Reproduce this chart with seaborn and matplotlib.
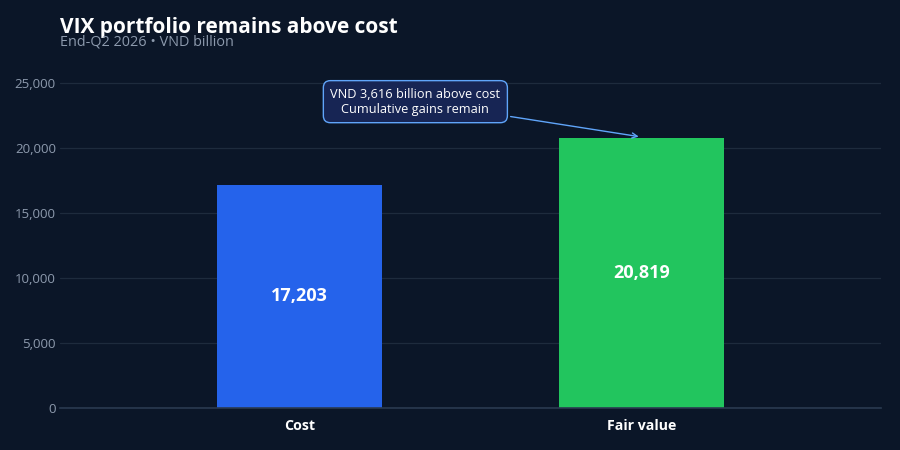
import pandas as pd
import matplotlib.pyplot as plt
import seaborn as sns

# data
categories = ['Cost', 'Fair value']
values = [17203, 20819]
bar_colors = ['#2563eb', '#22c55e']
y_ticks = [0, 5000, 10000, 15000, 20000, 25000]

bg = '#0b1628'
grid_c = '#1e2b3d'
tick_c = '#8d9aad'

sns.set_theme(style='dark')
plt.rcParams['font.family'] = ['Open Sans', 'DejaVu Sans']

df = pd.DataFrame({'item': categories, 'value': values})

fig = plt.figure(figsize=(9, 4.5), dpi=100, facecolor=bg)
ax = fig.add_axes([0.0667, 0.0933, 0.912, 0.75])
ax.set_facecolor(bg)

sns.barplot(data=df, x='item', y='value', hue='item', palette=bar_colors,
            width=0.48, legend=False, ax=ax, saturation=1,
            edgecolor='none', linewidth=0)

# value labels in the middle of bars
for i, v in enumerate(values):
    ax.text(i, v / 2, f'{v:,}', ha='center', va='center', color='white',
            fontsize=13, fontweight='bold')

ax.set_xlim(-0.70, 1.70)
ax.set_ylim(0, 26000)
ax.set_yticks(y_ticks)
ax.set_yticklabels([f'{t:,}' for t in y_ticks], color=tick_c, fontsize=9.5)
ax.set_xticks(range(len(categories)))
ax.set_xticklabels(categories, color='white', fontsize=10.2, fontweight='bold')
ax.set_xlabel('')
ax.set_ylabel('')
ax.grid(axis='y', color=grid_c, linewidth=0.9)
ax.grid(axis='x', visible=False)
ax.set_axisbelow(True)
for s in ['top', 'right', 'left']:
    ax.spines[s].set_visible(False)
ax.spines['bottom'].set_color('#2a3a50')
ax.spines['bottom'].set_linewidth(1.2)
ax.tick_params(axis='y', length=0, pad=3)
ax.tick_params(axis='x', length=0, pad=8)

# callout
diff = values[1] - values[0]
ax.annotate(f'VND {diff:,} billion above cost\nCumulative gains remain',
            xy=(1, values[1] + 60), xytext=(0.339, 23600),
            ha='center', va='center', color='white', fontsize=9.2,
            bbox=dict(boxstyle='round,pad=0.55', fc='#172554', ec='#60a5fa', lw=1),
            arrowprops=dict(arrowstyle='->', color='#60a5fa', lw=1))

fig.text(0.0667, 0.94, 'VIX portfolio remains above cost', color='white',
         fontsize=15, fontweight='bold', va='center')
fig.text(0.0667, 0.907, 'End-Q2 2026 • VND billion', color=tick_c,
         fontsize=10.4, va='center')

plt.savefig('out.png', dpi=100, facecolor=bg)
